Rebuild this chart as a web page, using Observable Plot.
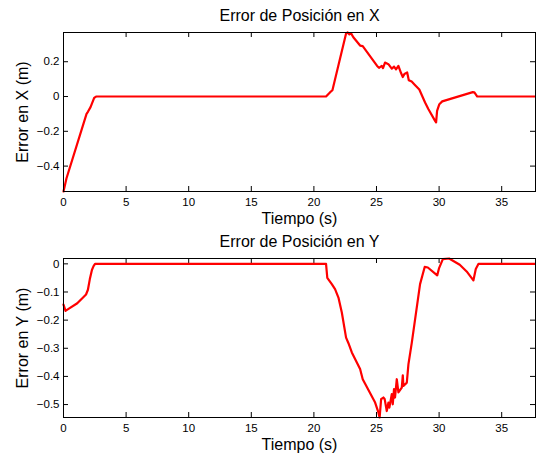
<!DOCTYPE html>
<html>
<head>
<meta charset="utf-8">
<script src="https://cdn.jsdelivr.net/npm/d3@7"></script>
<script src="https://cdn.jsdelivr.net/npm/@observablehq/plot@0.6"></script>
<style>
  html, body { margin: 0; padding: 0; background: #fff; }
  #chart svg { display: block; }
</style>
</head>
<body>
<div id="chart"></div>
<script>
// ---- Data ----
const titles = ["Error de Posición en X", "Error de Posición en Y"];
const yLabels = ["Error en X (m)", "Error en Y (m)"];
const xLabel = "Tiempo (s)";
const xTicks = [0, 5, 10, 15, 20, 25, 30, 35];
const yTicksX = [-0.4, -0.2, 0, 0.2];
const yTicksY = [-0.5, -0.4, -0.3, -0.2, -0.1, 0];

const tX = [0, 0.24, 1.84, 1.95, 2.16, 2.45, 2.6, 20.97, 21.3, 21.48, 22.57, 22.7, 22.84, 22.97, 23.15,
  23.69, 23.9, 25.05, 25.2, 25.42, 25.52, 25.68, 25.95, 26.22, 26.4, 26.56, 26.75, 26.96, 27.1, 27.23,
  27.45, 27.58, 27.81, 28.05, 28.42, 28.88, 29.14, 29.68, 29.76, 29.84, 30.02, 30.25, 32.69, 32.82, 33.05, 37.7];
const eX = [-0.546, -0.47, -0.10, -0.088, -0.061, -0.008, 0, 0, 0.025, 0.036, 0.362, 0.368, 0.357, 0.363, 0.341,
  0.293, 0.290, 0.176, 0.165, 0.176, 0.163, 0.195, 0.186, 0.160, 0.172, 0.156, 0.176, 0.135, 0.112, 0.130,
  0.138, 0.094, 0.086, 0.068, 0.040, -0.034, -0.072, -0.140, -0.149, -0.082, -0.044, -0.028, 0.025, 0.024, 0, 0];

const tY = [0, 0.16, 0.37, 1.1, 1.8, 1.95, 2.1, 2.27, 2.4, 2.52, 20.97, 21.07, 21.43, 21.69, 21.96, 22.23,
  22.57, 22.76, 23.03, 23.69, 23.9, 24.89, 25.15, 25.25, 25.37, 25.55, 25.65, 25.82, 25.95, 26.03, 26.22,
  26.3, 26.4, 26.48, 26.62, 26.75, 27.02, 27.1, 27.15, 27.42, 27.55, 27.82, 28.48, 28.85, 29.1, 29.85,
  30.0, 30.3, 30.8, 31.65, 32.2, 32.74, 32.93, 33.15, 37.7];
const eY = [-0.145, -0.167, -0.161, -0.140, -0.109, -0.092, -0.055, -0.022, -0.008, 0, 0, -0.05, -0.072, -0.090, -0.12, -0.173,
  -0.262, -0.282, -0.315, -0.374, -0.41, -0.493, -0.528, -0.546, -0.481, -0.475, -0.48, -0.523, -0.493, -0.511, -0.463,
  -0.499, -0.445, -0.475, -0.41, -0.457, -0.44, -0.396, -0.434, -0.422, -0.357, -0.28, -0.072, -0.011, -0.013, -0.041,
  -0.015, 0.017, 0.019, -0.003, -0.027, -0.059, -0.018, 0, 0];

const xDomain = [0, 37.7];
const yDomainX = [-0.546, 0.368];
const yDomainY = [-0.546, 0.019];

// ---- Drawing ----
const font = "'Liberation Sans', Arial, Helvetica, sans-serif";
const fmt = d3.format("~g");
const W = 536, H = 228, ML = 63, MR = 1, TICK = 5;

function panel({t, e, yDomain, yTicks, title, ylabel, marginTop, marginBottom}) {
  const data = t.map((d, i) => ({t: d, e: e[i]}));
  const fw = W - ML - MR, fh = H - marginTop - marginBottom;
  return Plot.plot({
    width: W,
    height: H,
    marginLeft: ML,
    marginRight: MR,
    marginTop,
    marginBottom,
    style: {fontFamily: font, fontSize: "11.5px", color: "black", background: "white"},
    x: {domain: xDomain},
    y: {domain: yDomain},
    marks: [
      Plot.axisX({ticks: xTicks, tickSize: 0, tickPadding: 6, tickFormat: fmt, label: null}),
      Plot.axisY({ticks: yTicks, tickSize: 0, tickPadding: 4, tickFormat: fmt, label: null}),
      // inward ticks on all four sides
      Plot.tickX(xTicks, {x: d => d, stroke: "black", insetTop: fh - TICK}),
      Plot.tickX(xTicks, {x: d => d, stroke: "black", insetBottom: fh - TICK}),
      Plot.tickY(yTicks, {y: d => d, stroke: "black", insetRight: fw - TICK}),
      Plot.tickY(yTicks, {y: d => d, stroke: "black", insetLeft: fw - TICK}),
      Plot.lineY(data, {x: "t", y: "e", stroke: "red", strokeWidth: 2.2, strokeLinejoin: "round"}),
      Plot.frame({stroke: "black"}),
      Plot.text([title], {frameAnchor: "top", text: d => d, dy: -17, fontSize: 16, textAnchor: "middle", lineAnchor: "middle"}),
      Plot.text([xLabel], {frameAnchor: "bottom", text: d => d, dy: 27, fontSize: 16, textAnchor: "middle", lineAnchor: "middle"}),
      Plot.text([ylabel], {frameAnchor: "left", text: d => d, dx: -40.5, rotate: -90, fontSize: 16, textAnchor: "middle", lineAnchor: "middle"})
    ]
  });
}

const chart = document.getElementById("chart");
chart.append(panel({t: tX, e: eX, yDomain: yDomainX, yTicks: yTicksX, title: titles[0], ylabel: yLabels[0], marginTop: 32, marginBottom: 37}));
chart.append(panel({t: tY, e: eY, yDomain: yDomainY, yTicks: yTicksY, title: titles[1], ylabel: yLabels[1], marginTop: 30, marginBottom: 39}));
</script>
</body>
</html>
